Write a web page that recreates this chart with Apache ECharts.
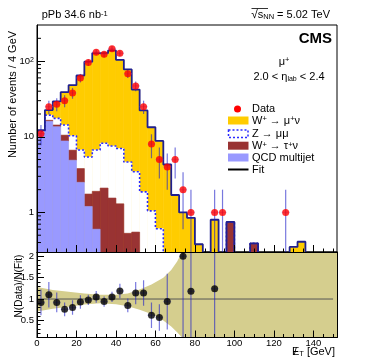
<!DOCTYPE html>
<html>
<head>
<meta charset="utf-8">
<script src="https://cdn.jsdelivr.net/npm/echarts@6.0.0/dist/echarts.min.js"></script>
<style>
html,body{margin:0;padding:0;background:#fff;}
#main{width:374px;height:361px;}
</style>
</head>
<body>
<div id="main"></div>
<script>
// 4 GeV bins (lower edges)
var binLow = [0,4,8,12,16,20,24,28,32,36,40,44,48,52,56,60,64,68,72,76,80,84,88,92,96,100,104,108,112,116,120,124,128,132,136,140,144,148];
var binWidth = 4;

// fitted components, events per bin
var qcd  = [11.0,16.0,13.6,8.8,4.9,2.5,1.2,0.6,0,0,0,0,0,0,0,0,0,0,0,0,0,0,0,0,0,0,0,0,0,0,0,0,0,0,0,0,0,0];
var wtau = [0.2,0.5,0.7,1.7,1.75,1.3,0.55,1.3,2.1,1.55,1.3,0.53,0.55,0,0,0,0,0,0,0,0,0,0,0,0.75,0,0,0.39,0,0,0,0,0,0,0,0,0,0];
var zmm  = [0.6,2.8,3.2,3.8,3.65,2.9,3.65,4.8,6.1,6.0,5.7,4.1,2.9,1.87,1.05,0.61,0,0,0,0,0,0,0,0,0,0,0,0,0,0,0,0,0,0,0,0,0,0];
var wmu  = [0.4,3.2,11.8,24.5,37.7,57.8,92.6,121,119,131,97,73,38.6,20.4,12.3,8.2,4.3,1.7,1.0,0.85,0.38,0,0.8,0,0,0,0,0,0,0,0,0,0.35,0.41,0,0,0,0];

// data
var dataX   = [2,6,10,14,18,22,26,30,34,38,42,46,50,54,58,62,66,70,74,78,90,94,126];
var dataY   = [11,25,27,30,38,60,96,131,123,146,127,68,47,25,8,5,4,5,2,1,1,1,1];
var dataErr = [3.3,5,5.2,5.5,6.2,7.7,9.8,11.4,11.1,12.1,11.3,8.2,6.9,5,2.8,2.2,2,2.2,1.4,1,1,1,1];

// ratio panel
var ratioX   = [2,6,10,14,18,22,26,30,34,38,42,46,50,54,58,62,66,74,78,90];
var ratioY   = [0.92,1.10,0.92,0.76,0.80,0.93,0.98,1.05,0.94,1.05,1.19,0.85,1.14,1.14,0.62,0.57,0.94,2.0,1.18,1.24];
var ratioErr = [0.3,0.3,0.23,0.16,0.17,0.16,0.12,0.14,0.12,0.12,0.17,0.16,0.26,0.3,0.3,0.31,0.65,2,2,2];
var bandX     = [0,8,16,24,32,40,46,52,58,64,68,71,73.5,152];
var bandUpper = [1.28,1.21,1.17,1.13,1.1,1.1,1.13,1.22,1.34,1.5,1.68,1.88,2.1,2.1];
var bandLower = [0.71,0.77,0.82,0.87,0.9,0.88,0.83,0.75,0.65,0.5,0.36,0.22,0.1,0.1];

// ticks
var xMajor = [0,20,40,60,80,100,120,140];
var xMinor = [5,10,15,25,30,35,45,50,55,65,70,75,85,90,95,105,110,115,125,130,135,145,150];
var logMinor = [0.4,0.5,0.6,0.7,0.8,0.9,2,3,4,5,6,7,8,9,20,30,40,50,60,70,80,90,200];
var rMajor = [0.5,1,1.5,2];
var rMinor = [0.2,0.3,0.4,0.6,0.7,0.8,0.9,1.1,1.2,1.3,1.4,1.6,1.7,1.8,1.9,2.1];

var FONT = '"Liberation Sans", Arial, sans-serif';
var Y_MIN = 0.3, Y_MAX = 300, X_MAX = 152, R_MIN = 0.1, R_MAX = 2.1;

// stack, bottom to top
var tauTop = qcd.map(function(v,i){ return v + wtau[i]; });
var zTop   = tauTop.map(function(v,i){ return v + zmm[i]; });
var fitTop = zTop.map(function(v,i){ return v + wmu[i]; });

function layer(base, top, color){
	return {
		type:'custom', xAxisIndex:0, yAxisIndex:0, z:2, clip:true,
		encode:{x:[0,1], y:[2,3]},
		data: binLow.map(function(lo,i){ return [lo, lo+binWidth, base ? base[i] : 0, top[i]]; }),
		renderItem:function(params, api){
			var top = api.value(3);
			var base = Math.max(api.value(2), Y_MIN);
			if (!(top > base)) return;
			var p1 = api.coord([api.value(0), top]);
			var p2 = api.coord([api.value(1), base]);
			return {type:'rect', shape:{x:p1[0], y:p1[1], width:p2[0]-p1[0], height:p2[1]-p1[1]},
				style:{fill:color, stroke:color, lineWidth:0.6}};
		}
	};
}

function stepLine(top){
	var d = binLow.map(function(lo,i){ return [lo, Math.max(top[i], 0.01)]; });
	d.push([X_MAX, Math.max(top[top.length-1], 0.01)]);
	return d;
}

function errBars(xs, ys, es, xi, yi, lo, hi, vcol){
	return {
		type:'custom', xAxisIndex:xi, yAxisIndex:yi, z:6, clip:true,
		encode:{x:0, y:1},
		data: xs.map(function(x,i){ return [x, ys[i], es[i]]; }),
		renderItem:function(params, api){
			var x = api.value(0), y = api.value(1), e = api.value(2);
			var a = api.coord([x, Math.max(y-e, lo)]), b = api.coord([x, Math.min(y+e, hi)]);
			var l = api.coord([x-binWidth/2, y]), r = api.coord([x+binWidth/2, y]);
			return {type:'group', children:[
				{type:'line', shape:{x1:l[0],y1:l[1],x2:r[0],y2:r[1]}, style:{stroke:'rgba(120,120,255,0.45)', lineWidth:1.5}},
				{type:'line', shape:{x1:a[0],y1:a[1],x2:b[0],y2:b[1]}, style:{stroke:vcol, lineWidth:1.2}}
			]};
		}
	};
}

var chart = echarts.init(document.getElementById('main'), null, {renderer:'canvas'});

var tickLine = {color:'#000', width:1};
var option = {
	animation:false,
	backgroundColor:'#fff',
	textStyle:{fontFamily:FONT},
	grid:[
		{left:37, top:25, width:300, height:227, show:true, borderColor:'#000', borderWidth:1, backgroundColor:'transparent'},
		{left:37, top:252, width:300, height:85.5, show:true, borderColor:'#000', borderWidth:1, backgroundColor:'transparent'}
	],
	xAxis:[
		{gridIndex:0, type:'value', min:0, max:X_MAX, position:'bottom', z:10,
			axisLine:{onZero:false, lineStyle:tickLine}, axisLabel:{show:false}, splitLine:{show:false},
			axisTick:{inside:true, length:7, customValues:xMajor, lineStyle:tickLine}},
		{gridIndex:0, type:'value', min:0, max:X_MAX, position:'bottom', z:10,
			axisLine:{show:false, onZero:false}, axisLabel:{show:false}, splitLine:{show:false},
			axisTick:{inside:true, length:3.5, customValues:xMinor, lineStyle:tickLine}},
		{gridIndex:1, type:'value', min:0, max:X_MAX, position:'bottom', z:10,
			axisLine:{onZero:false, lineStyle:tickLine}, splitLine:{show:false},
			axisLabel:{customValues:xMajor, fontSize:9.5, color:'#000', margin:0.5, fontFamily:FONT},
			axisTick:{inside:true, length:7, customValues:xMajor, lineStyle:tickLine}},
		{gridIndex:1, type:'value', min:0, max:X_MAX, position:'bottom', z:10,
			axisLine:{show:false, onZero:false}, axisLabel:{show:false}, splitLine:{show:false},
			axisTick:{inside:true, length:3.5, customValues:xMinor, lineStyle:tickLine}},
		{gridIndex:1, type:'value', min:0, max:X_MAX, position:'top', z:10,
			axisLine:{onZero:false, lineStyle:tickLine}, axisLabel:{show:false}, axisTick:{show:false}, splitLine:{show:false}}
	],
	yAxis:[
		{gridIndex:0, type:'log', logBase:10, min:Y_MIN, max:Y_MAX, z:10,
			axisLine:{onZero:false, lineStyle:tickLine}, splitLine:{show:false},
			axisTick:{inside:true, length:8, lineStyle:tickLine},
			axisLabel:{color:'#000', fontSize:9.5, margin:3, showMinLabel:false, showMaxLabel:false, fontFamily:FONT,
				formatter:function(v){ v = Math.round(v); return v === 100 ? '{n|10}{s|2}' : '{n|' + v + '}'; },
				rich:{n:{fontSize:9.5, fontFamily:FONT}, s:{fontSize:7, verticalAlign:'top', fontFamily:FONT}}}},
		{gridIndex:1, type:'value', min:R_MIN, max:R_MAX, z:10,
			axisLine:{onZero:false, lineStyle:tickLine}, splitLine:{show:false},
			axisTick:{inside:true, length:7, customValues:rMajor, lineStyle:tickLine},
			axisLabel:{customValues:rMajor, color:'#000', fontSize:9.5, margin:3, fontFamily:FONT}},
		{gridIndex:1, type:'value', min:R_MIN, max:R_MAX, position:'left', z:10,
			axisLine:{show:false, onZero:false}, splitLine:{show:false}, axisLabel:{show:false},
			axisTick:{inside:true, length:3.5, customValues:rMinor, lineStyle:tickLine}},
		{gridIndex:1, type:'value', min:R_MIN, max:R_MAX, position:'right', z:10,
			axisLine:{onZero:false, lineStyle:tickLine}, splitLine:{show:false}, axisLabel:{show:false}, axisTick:{show:false}}
	],
	series:[
		layer(null, fitTop, '#ffcc00'),
		layer(tauTop, zTop, '#ffffff'),
		layer(qcd, tauTop, '#993333'),
		layer(null, qcd, '#9999ff'),
		{type:'line', xAxisIndex:0, yAxisIndex:0, step:'end', symbol:'none', z:3, clip:true,
			data:stepLine(zTop), lineStyle:{color:'#2a2aff', width:1.6, type:[2,2]}},
		{type:'line', xAxisIndex:0, yAxisIndex:0, step:'end', symbol:'none', z:4, clip:true,
			data:stepLine(fitTop), lineStyle:{color:'#202090', width:1.8}},
		// minor ticks of the log axis
		{type:'custom', xAxisIndex:0, yAxisIndex:0, z:9, encode:{x:0, y:1},
			data: logMinor.map(function(v){ return [0, v]; }),
			renderItem:function(params, api){
				var p = api.coord([0, api.value(1)]);
				return {type:'line', shape:{x1:p[0], y1:p[1], x2:p[0]+4, y2:p[1]}, style:{stroke:'#000', lineWidth:1}};
			}},
		errBars(dataX, dataY, dataErr, 0, 0, Y_MIN, Y_MAX, 'rgba(30,30,200,0.6)'),
		{type:'scatter', xAxisIndex:0, yAxisIndex:0, z:7, symbolSize:7,
			data: dataX.map(function(x,i){ return [x, dataY[i]]; }), itemStyle:{color:'#ff0000'}},
		// ratio panel
		{type:'custom', xAxisIndex:2, yAxisIndex:1, z:2, encode:{x:0, y:1}, data:[[0,1]],
			renderItem:function(params, api){
				var pts = [], i;
				for (i = 0; i < bandX.length; i++) pts.push(api.coord([bandX[i], bandUpper[i]]));
				for (i = bandX.length-1; i >= 0; i--) pts.push(api.coord([bandX[i], bandLower[i]]));
				return {type:'polygon', shape:{points:pts}, style:{fill:'#d5ce8e'}};
			}},
		{type:'line', xAxisIndex:2, yAxisIndex:1, symbol:'none', z:3,
			data:[[0,1],[150,1]], lineStyle:{color:'#555', width:1}},
		errBars(ratioX, ratioY, ratioErr, 2, 1, R_MIN, R_MAX, 'rgba(30,30,200,0.6)'),
		{type:'scatter', xAxisIndex:2, yAxisIndex:1, z:7, symbolSize:7,
			data: ratioX.map(function(x,i){ return [x, ratioY[i]]; }), itemStyle:{color:'#000'}}
	],
	graphic:[
		{type:'text', x:41.7, y:15, style:{text:'{a|pPb 34.6 nb}{s|-1}', verticalAlign:'middle', fill:'#000',
			rich:{a:{fontSize:11, fontFamily:FONT}, s:{fontSize:7.5, verticalAlign:'top', fontFamily:FONT}}}},
		{type:'text', x:330, y:15, style:{text:'{r|\u221A}{a|s}{b|NN}{a| = 5.02 TeV}', align:'right', verticalAlign:'middle', fill:'#000',
			rich:{r:{fontSize:12, fontFamily:FONT}, a:{fontSize:11, fontFamily:FONT}, b:{fontSize:7.5, verticalAlign:'bottom', fontFamily:FONT}}}},
		{type:'line', shape:{x1:251.5, y1:8.5, x2:268, y2:8.5}, style:{stroke:'#000', lineWidth:0.8}},
		{type:'text', x:332, y:39, style:{text:'CMS', align:'right', verticalAlign:'middle', fill:'#000', font:'bold 15px ' + FONT}},
		{type:'text', x:284, y:61.7, style:{text:'{a|\u03BC}{s|+}', align:'center', verticalAlign:'middle', fill:'#000',
			rich:{a:{fontSize:11, fontFamily:FONT}, s:{fontSize:7.5, verticalAlign:'top', fontFamily:FONT}}}},
		{type:'text', x:289, y:76.7, style:{text:'{a|2.0 < \u03B7}{b|lab}{a| < 2.4}', align:'center', verticalAlign:'middle', fill:'#000',
			rich:{a:{fontSize:11, fontFamily:FONT}, b:{fontSize:7, verticalAlign:'bottom', fontFamily:FONT}}}},
		// legend
		{type:'circle', shape:{cx:237.5, cy:109, r:3.5}, style:{fill:'#ff0000'}},
		{type:'text', x:252, y:109, style:{text:'Data', verticalAlign:'middle', fill:'#000', font:'11px ' + FONT}},
		{type:'rect', shape:{x:228, y:116.5, width:20.5, height:8}, style:{fill:'#ffcc00'}},
		{type:'text', x:252, y:120.5, style:{text:'{a|W}{s|+}{a| \u2192 \u03BC}{s|+}{a|\u03BD}', verticalAlign:'middle', fill:'#000',
			rich:{a:{fontSize:11, fontFamily:FONT}, s:{fontSize:7.5, verticalAlign:'top', fontFamily:FONT}}}},
		{type:'rect', shape:{x:228.5, y:130, width:19.5, height:7.5}, style:{fill:'#fff', stroke:'#2a2aff', lineWidth:1.5, lineDash:[2,2]}},
		{type:'text', x:252, y:134, style:{text:'Z \u2192 \u03BC\u03BC', verticalAlign:'middle', fill:'#000', font:'11px ' + FONT}},
		{type:'rect', shape:{x:228, y:141.7, width:20.5, height:8}, style:{fill:'#993333'}},
		{type:'text', x:252, y:146, style:{text:'{a|W}{s|+}{a| \u2192 \u03C4}{s|+}{a|\u03BD}', verticalAlign:'middle', fill:'#000',
			rich:{a:{fontSize:11, fontFamily:FONT}, s:{fontSize:7.5, verticalAlign:'top', fontFamily:FONT}}}},
		{type:'rect', shape:{x:228, y:153.5, width:20.5, height:8}, style:{fill:'#9999ff'}},
		{type:'text', x:252, y:157.5, style:{text:'QCD multijet', verticalAlign:'middle', fill:'#000', font:'11px ' + FONT}},
		{type:'line', shape:{x1:228, y1:169.5, x2:248.5, y2:169.5}, style:{stroke:'#000', lineWidth:2}},
		{type:'text', x:252, y:169.5, style:{text:'Fit', verticalAlign:'middle', fill:'#000', font:'11px ' + FONT}},
		// axis titles
		{type:'text', x:13, y:94.5, rotation:Math.PI/2, style:{text:'Number of events / 4 GeV', align:'center', verticalAlign:'middle', fill:'#000', font:'11px ' + FONT}},
		{type:'text', x:19, y:286, rotation:Math.PI/2, style:{text:'N(Data)/N(Fit)', align:'center', verticalAlign:'middle', fill:'#000', font:'10px ' + FONT}},
		{type:'text', x:335, y:352, style:{text:'{a|E}{b|T}{a| [GeV]}', align:'right', verticalAlign:'middle', fill:'#000',
			rich:{a:{fontSize:11, fontFamily:FONT}, b:{fontSize:7.5, verticalAlign:'bottom', fontFamily:FONT}}}},
		{type:'text', x:295.3, y:352, style:{text:'/', align:'center', verticalAlign:'middle', fill:'#000', font:'11px ' + FONT}},
		{type:'text', x:261, y:268.3, style:{text:'{a|Prob(\u03C7}{s|2}{a|)= 0.70}', verticalAlign:'middle', fill:'#000',
			rich:{a:{fontSize:9, fontFamily:FONT}, s:{fontSize:6.5, verticalAlign:'top', fontFamily:FONT}}}}
	]
};
chart.setOption(option);
</script>
</body>
</html>
